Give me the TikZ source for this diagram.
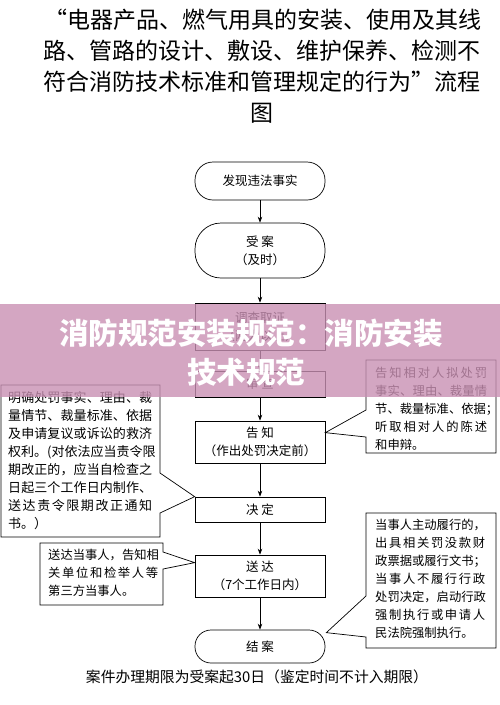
\documentclass[tikz,border=0pt]{standalone}
\usepackage{fontspec}
\setmainfont{Noto Sans CJK SC}
\usetikzlibrary{arrows.meta}
\usetikzlibrary{calc}
\definecolor{bandpink}{RGB}{201,144,179}
% spread one line of characters over a given width
\def\jlx#1{#1\futurelet\jlnext\jly}
\def\jly{\ifx\jlnext\relax\expandafter\jlstop\else\hfil\expandafter\jlx\fi}
\def\jlstop#1{}
\newcommand{\jl}[2]{\hbox to #1{\jlx#2\relax}}

\begin{document}
\begin{tikzpicture}[x=1pt, y=-1pt, >={Stealth[length=6pt, width=4.5pt]},
  every node/.style={inner sep=0pt, font=\fontsize{12.5}{18}\selectfont},
  stepbox/.style={draw, line width=0.7pt, minimum width=130pt, align=center},
  endbox/.style={stepbox, rounded corners=16pt},
  callout/.style={draw, line width=0.7pt, fill=white},
  note/.style={anchor=north west, align=left, font=\fontsize{12.3}{18}\selectfont}]
          \useasboundingbox (0,0) rectangle (500,705);

          % title
          \node[font=\fontsize{23}{23}\selectfont] (t1) at (263,20) {“电器产品、燃气用具的安装、使用及其线};
          \node[font=\fontsize{23}{23}\selectfont] (t2) at (262,51) {路、管路的设计、敷设、维护保养、检测不};
          \node[font=\fontsize{23}{23}\selectfont] (t3) at (262,82) {符合消防技术标准和管理规定的行为”流程};
          \node[font=\fontsize{23}{23}\selectfont] (t4) at (262,113) {图};

          % main steps
          \node[endbox, minimum height=38pt, rounded corners=18pt] (faxian) at (260,181) {发现违法事实};

          \node[endbox, minimum height=55pt, rounded corners=26pt] (shouan) at (260,250.5) {受\ 案\\（及时）};

          \node[stepbox, minimum height=47pt] (diaocha) at (260,326.5) {调查取证\\（两人以上）};

          \node[stepbox, minimum height=26pt] (shencha) at (260,384) {审\ 查};

          \node[stepbox, minimum height=42pt] (gaozhi) at (260,442) {告\ 知\\（作出处罚决定前）};

          \node[stepbox, minimum height=25pt] (jueding) at (260,509.5) {决\ 定};

          \node[stepbox, minimum height=42pt] (songda) at (260,576) {送\ 达\\（7个工作日内）};

          \node[endbox, minimum height=33pt] (jiean) at (260,646.5) {结\ 案};

          \draw[->, line width=0.7pt] (faxian) -- (shouan);
          \draw[->, line width=0.7pt] (shouan) -- (diaocha);
          \draw[->, line width=0.7pt] (diaocha) -- (shencha);
          \draw[->, line width=0.7pt] (shencha) -- (gaozhi);
          \draw[->, line width=0.7pt] (gaozhi) -- (jueding);
          \draw[->, line width=0.7pt] (jueding) -- (songda);
          \draw[->, line width=0.7pt] (songda) -- (jiean);

          % callouts
          \coordinate (tipL1) at (jueding.north west);
          \coordinate (tipL2) at ($(songda.north west)+(0,8)$);
          \coordinate (tipR1) at ($(gaozhi.north east)+(0,12)$);
          \coordinate (tipR2) at ($(jiean.north east)+(1,3)$);

          \draw[callout] (1,385) -- (160,385) -- (160,473) -- (tipL1) -- (160,513) -- (160,537) -- (1,537) -- cycle;
          \node[note, font=\fontsize{13}{18.1}\selectfont] (noteL1) at (8,391) {\jl{144pt}{明确处罚事实、理由、裁}\\\jl{144pt}{量情节、裁量标准、依据}\\\jl{144pt}{及申请复议或诉讼的救济}\\\jl{144pt}{权利。(对依法应当责令限}\\\jl{144pt}{期改正的，应当自检查之}\\\jl{144pt}{日起三个工作日内制作、}\\\jl{144pt}{送达责令限期改正通知}\\书。）};

          \draw[callout] (40,543) -- (163,543) -- (163,552) -- (tipL2) -- (163,569) -- (163,605) -- (40,605) -- cycle;
          \node[note] (noteL2) at (48,549) {\jl{110pt}{送达当事人，告知相}\\\jl{110pt}{关单位和检举人等}\\第三方当事人。};

          \draw[callout] (366,360) -- (496,360) -- (496,453) -- (366,453) -- (366,437) -- (tipR1) -- (366,410) -- cycle;
          \node[note] (noteR1) at (375,367) {\jl{112pt}{告知相对人拟处罚}\\\jl{112pt}{事实、理由、裁量情}\\节、裁量标准、依据；\\\jl{112pt}{听取相对人的陈述}\\和申辩。};

          \draw[callout] (366,513) -- (496,513) -- (496,648) -- (366,648) -- (366,637) -- (tipR2) -- (366,596) -- cycle;
          \node[note] (noteR2) at (375,519) {\jl{110pt}{当事人主动履行的，}\\\jl{110pt}{出具相关罚没款财}\\\jl{110pt}{政票据或履行文书；}\\\jl{110pt}{当事人不履行行政}\\\jl{110pt}{处罚决定，启动行政}\\\jl{110pt}{强制执行或申请人}\\民法院强制执行。};

          % time limit
          \node[font=\fontsize{14.8}{16}\selectfont] (limit) at (257,677) {案件办理期限为受案起30日（鉴定时间不计入期限）};

          % watermark band
          \fill[bandpink, fill opacity=0.8] (0,304) rectangle (500,397);
          \node[font=\fontsize{29.5}{36}\selectfont\bfseries, text=white] (wm1) at (251,333) {消防规范安装规范：消防安装};
          \node[font=\fontsize{29.5}{36}\selectfont\bfseries, text=white] (wm2) at (246,372) {技术规范};
        \end{tikzpicture}
\end{document}
